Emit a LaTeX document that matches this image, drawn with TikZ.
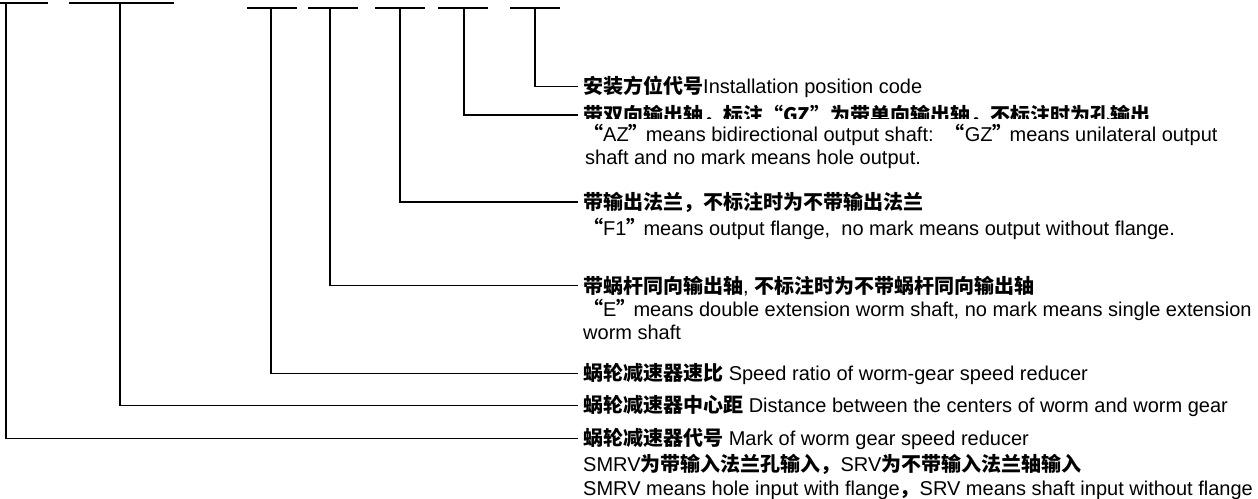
\documentclass[tikz,border=0pt]{standalone}
\usepackage{fontspec}
\setmainfont{Liberation Sans}
\newfontfamily\cjk{Noto Sans CJK SC}
\usetikzlibrary{positioning}
\newcommand{\zh}[1]{{\cjk\bfseries #1}}
\newcommand{\q}[1]{\zh{“}#1\zh{”}\kern-3pt}

\begin{document}
\begin{tikzpicture}[
    x=1pt, y=-1pt,
    lead/.style={draw, line width=1.3pt},
    txt/.style={anchor=base west, inner sep=0pt, font=\fontsize{20}{24}\selectfont}
]
\useasboundingbox (0,0) rectangle (1258,498);

% Code bars
\foreach \a/\b in {0/48, 69/174}
  \path[lead] (\a,3) -- (\b,3);
\foreach \a in {247, 308, 375, 438, 510}
  \path[lead] (\a,8) -- ++(50,0);

\coordinate (mark) at (6,3);
\coordinate (centre) at (120,3);
\coordinate (ratio) at (271,8);
\coordinate (worm) at (330,8);
\coordinate (flange) at (400,8);
\coordinate (shaft) at (464,8);
\coordinate (pos) at (535,8);

% Labels
\node[txt] (tpos) at (583,93) {\zh{安装方位代号}Installation position code};
\begin{scope}
  \clip (560,95) rectangle (1258,118);
  \node[txt] (tshaft) at (583,122) {\zh{带双向输出轴，标注“GZ”为带单向输出轴，不标注时为孔输出}};
\end{scope}
\node[txt] (tshaftA) at (583,141) {\q{AZ} means bidirectional output shaft:\ \ \q{GZ} means unilateral output};
\node[txt] (tshaftB) at (585,164) {shaft and no mark means hole output.};
\node[txt] (tflange) at (583,209) {\zh{带输出法兰，不标注时为不带输出法兰}};
\node[txt] (tflangeA) at (583,235) {\q{F1} means output flange,\ \ no mark means output without flange.};
\node[txt] (tworm) at (583,293) {\zh{带蜗杆同向输出轴}, \zh{不标注时为不带蜗杆同向输出轴}};
\node[txt] (twormA) at (583,316) {\q{E} means double extension worm shaft, no mark means single extension};
\node[txt] (twormB) at (583,339) {worm shaft};
\node[txt] (tratio) at (583,380) {\zh{蜗轮减速器速比} Speed ratio of worm-gear speed reducer};
\node[txt] (tcentre) at (583,412) {\zh{蜗轮减速器中心距} Distance between the centers of worm and worm gear};
\node[txt] (tmark) at (583,445) {\zh{蜗轮减速器代号} Mark of worm gear speed reducer};
\node[txt] (tmarkA) at (583,471) {SMRV\zh{为带输入法兰孔输入，}SRV\zh{为不带输入法兰轴输入}};
\node[txt] (tmarkB) at (583,495) {SMRV means hole input with flange\zh{，}SRV means shaft input without flange};

% Leaders
\path[lead] (pos) |- ([xshift=-5pt]tpos.west);
\path[lead] (shaft) |- ([xshift=-5pt]tshaft.west);
\path[lead] (flange) |- ([xshift=-5pt]tflange.west);
\path[lead] (worm) |- ([xshift=-5pt]tworm.west);
\path[lead] (ratio) |- ([xshift=-5pt]tratio.west);
\path[lead] (centre) |- ([xshift=-5pt]tcentre.west);
\path[lead] (mark) |- ([xshift=-5pt]tmark.west);

\end{tikzpicture}
\end{document}
